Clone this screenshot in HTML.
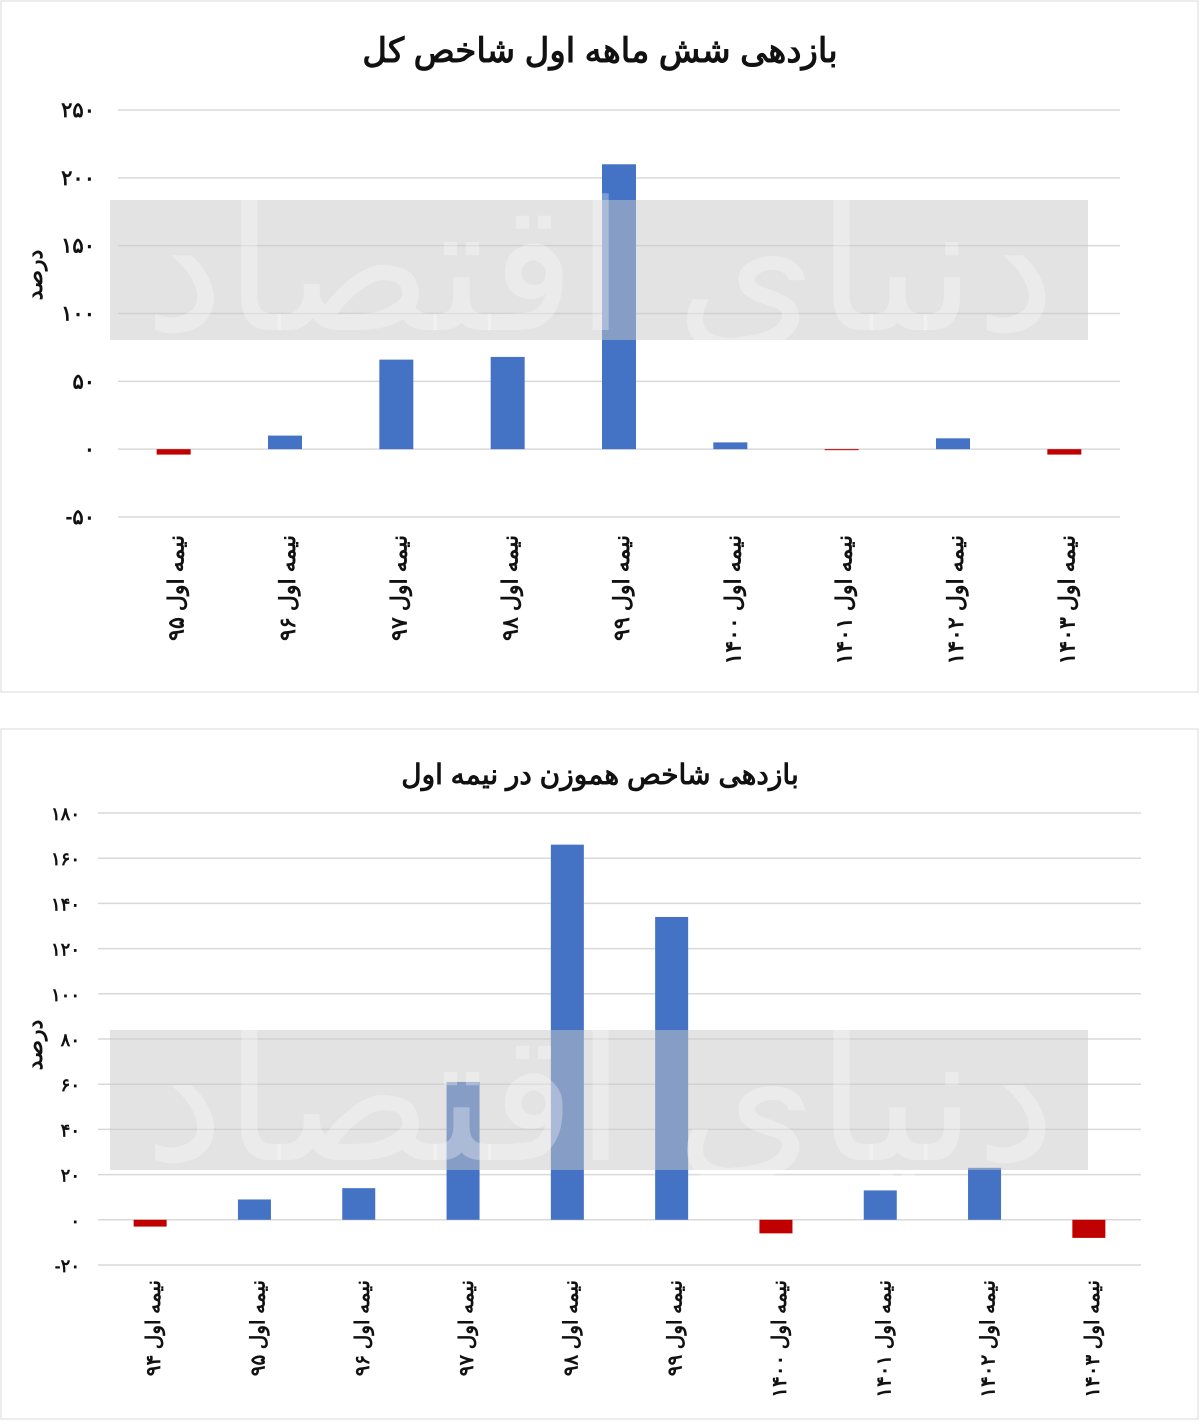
<!DOCTYPE html>
<html><head><meta charset="utf-8">
<style>
body{margin:0;background:#fff;width:1200px;height:1420px;overflow:hidden;font-family:"Liberation Sans","Noto Sans CJK SC",sans-serif;}
svg text{font-family:"Liberation Sans","Noto Sans CJK SC",sans-serif;}
</style></head>
<body>
<svg id="s" width="1200" height="1420" xmlns="http://www.w3.org/2000/svg">
<rect x="1" y="1" width="1197" height="691" fill="#fff" stroke="#d9d9d9"/>
<rect x="1" y="729" width="1197" height="690" fill="#fff" stroke="#d9d9d9"/>
<text x="600" y="62" text-anchor="middle" font-size="34" font-weight="bold" fill="#111">بازدهی شش ماهه اول شاخص کل</text>
<text x="600" y="784" text-anchor="middle" font-size="28" font-weight="bold" fill="#111">بازدهی شاخص هموزن در نیمه اول</text>
<g id="c1"></g><g id="c2"></g>
</svg>
<script>
const cats1=["نیمه اول ۹۵","نیمه اول ۹۶","نیمه اول ۹۷","نیمه اول ۹۸","نیمه اول ۹۹","نیمه اول ۱۴۰۰","نیمه اول ۱۴۰۱","نیمه اول ۱۴۰۲","نیمه اول ۱۴۰۳"];
const vals1=[-4,10,66,68,210,5,-0.5,8,-4];
const ticks1=[-50,0,50,100,150,200,250];
const cats2=["نیمه اول ۹۴","نیمه اول ۹۵","نیمه اول ۹۶","نیمه اول ۹۷","نیمه اول ۹۸","نیمه اول ۹۹","نیمه اول ۱۴۰۰","نیمه اول ۱۴۰۱","نیمه اول ۱۴۰۲","نیمه اول ۱۴۰۳"];
const vals2=[-3,9,14,61,166,134,-6,13,23,-8];
const ticks2=[-20,0,20,40,60,80,100,120,140,160,180];
const NS="http://www.w3.org/2000/svg";
function fa(n){return String(n).replace(/\d/g,d=>"۰۱۲۳۴۵۶۷۸۹"[d]);}
function mk(g,t,a){const e=document.createElementNS(NS,t);for(const k in a)e.setAttribute(k,a[k]);g.appendChild(e);return e;}
function draw(gid,cats,vals,ticks,cfg){
  const g=document.getElementById(gid);
  const tmin=ticks[0],tmax=ticks[ticks.length-1];
  const y=v=>cfg.yBot-(v-tmin)/(tmax-tmin)*(cfg.yBot-cfg.yTop);
  const step=(cfg.x1-cfg.x0)/cats.length;
  const x=i=>cfg.x0+step*(i+0.5);
  ticks.forEach(t=>{
    const l=mk(g,"line",{x1:cfg.x0,x2:cfg.x1,y1:y(t),y2:y(t),stroke:"#d9d9d9","stroke-width":1.5});
    
    
    const tx=mk(g,"text",{x:cfg.tickX,y:y(t)+7,"text-anchor":"end","font-size":cfg.fs,"font-weight":"bold",fill:"#111"});
    tx.textContent=(t<0?"-":"")+fa(Math.abs(t));
    
    
  });
  vals.forEach((v,i)=>{
    const r=mk(g,"rect",{x:x(i)-cfg.bw/2,y:Math.min(y(v),y(0)),width:cfg.bw,height:Math.max(1,Math.abs(y(v)-y(0))),fill:v<0?"#c00000":"#4472c4"});
    
    
  });
  cats.forEach((c,i)=>{
    const t=mk(g,"text",{transform:`translate(${x(i)+10},${cfg.labY}) rotate(-90)`,"text-anchor":"end","font-size":cfg.lfs,"font-weight":"bold",fill:"#111"});
    t.textContent=c;
    
    
  });
  const band=mk(g,"rect",{x:110,y:cfg.bandY,width:978,height:140,fill:"rgba(200,200,200,0.5)"});
  
  
  const wm=mk(g,"text",{x:600,y:cfg.bandY+130,"text-anchor":"middle","font-size":180,fill:"rgba(255,255,255,0.3)"});
  wm.textContent="دنیای اقتصاد";
  
  
  const yt=mk(g,"text",{transform:`translate(42,${cfg.ytY}) rotate(-90)`,"text-anchor":"middle","font-size":22,"font-weight":"bold",fill:"#111"});
  yt.textContent="درصد";
  
  
}
draw("c1",cats1,vals1,ticks1,{x0:118,x1:1120,yTop:110,yBot:517,bw:34,tickX:95,fs:21,lfs:22,labY:535,bandY:200,ytY:275});
draw("c2",cats2,vals2,ticks2,{x0:98,x1:1141,yTop:813,yBot:1265,bw:33,tickX:80,fs:18,lfs:20,labY:1280,bandY:1030,ytY:1045});
</script>
</body></html>
